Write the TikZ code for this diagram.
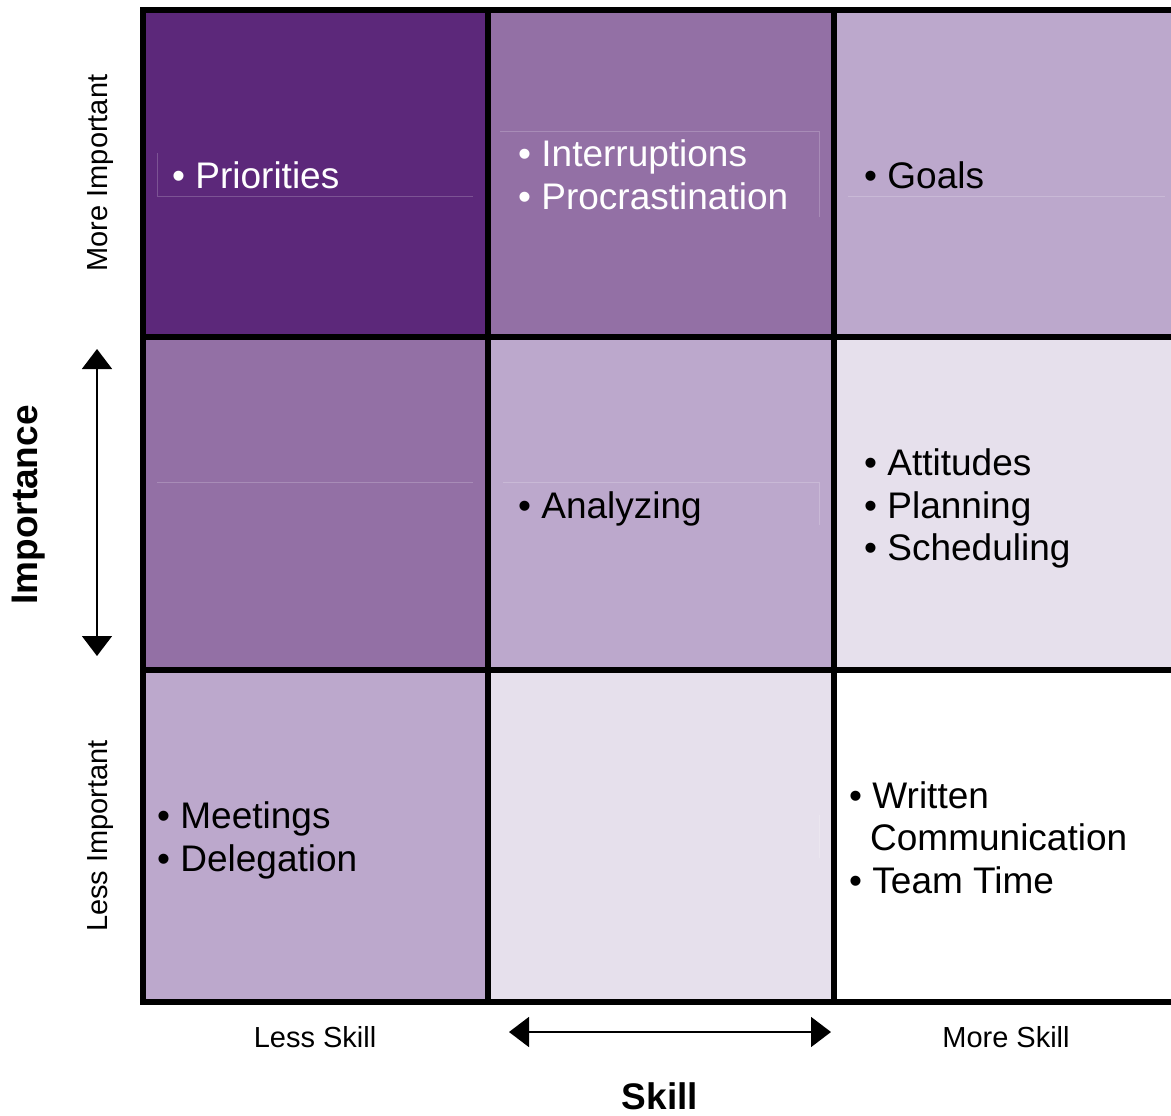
\documentclass[tikz,border=0pt]{standalone}
\usepackage{fontspec}
\setmainfont{Liberation Sans}
\usetikzlibrary{arrows.meta}
\definecolor{pdark}{HTML}{5C287A}
\definecolor{pmed}{HTML}{9370A5}
\definecolor{plight}{HTML}{BCA8CC}
\definecolor{pvlight}{HTML}{E6E0EC}
\tikzset{
  cellline/.style={line width=6pt, draw=black},
  itemtxt/.style={anchor=base west, inner sep=0pt, font=\fontsize{37}{43}\selectfont},
  axsmall/.style={inner sep=0pt, font=\fontsize{29}{34}\selectfont},
  axbig/.style={inner sep=0pt, font=\fontsize{37}{43}\selectfont\bfseries},
  boxline/.style={draw=white, draw opacity=0.2, line width=0.8pt},
  dblarrow/.style={line width=1.5pt, {Triangle[width=30pt,length=20pt]}-{Triangle[width=30pt,length=20pt]}}
}
\begin{document}
\begin{tikzpicture}[x=1pt,y=-1pt]
\useasboundingbox (0,0) rectangle (1171,1116);
\begin{scope}
\clip (0,0) rectangle (1171,1116);
% cells
\fill[pdark]   (143,10) rectangle (488,337);
\fill[pmed]    (488,10) rectangle (834,337);
\fill[plight]  (834,10) rectangle (1180,337);
\fill[pmed]    (143,337) rectangle (488,670);
\fill[plight]  (488,337) rectangle (834,670);
\fill[pvlight] (834,337) rectangle (1180,670);
\fill[plight]  (143,670) rectangle (488,1002);
\fill[pvlight] (488,670) rectangle (834,1002);
\fill[white]   (834,670) rectangle (1180,1002);
% faint text box edges
\draw[boxline] (157,153) -- (157,196) -- (473,196);
\draw[boxline] (500,131) -- (819,131) -- (819,217);
\draw[boxline] (848,196) -- (1165,196);
\draw[boxline] (157,482) -- (473,482);
\draw[boxline] (503,482) -- (819,482) -- (819,525);
\draw[boxline] (819,815) -- (819,858);
% grid lines
\draw[cellline] (1185,10) -- (143,10) -- (143,1002) -- (1185,1002);
\draw[cellline] (488,10) -- (488,1002);
\draw[cellline] (834,10) -- (834,1002);
\draw[cellline] (143,337) -- (1185,337);
\draw[cellline] (143,670) -- (1185,670);
\end{scope}
% cell texts
\node[itemtxt, text=white] (t1) at (172,188) {• Priorities};
\node[itemtxt, text=white] (t2) at (518,166) {• Interruptions};
\node[itemtxt, text=white] (t3) at (518,209) {• Procrastination};
\node[itemtxt] (t4) at (864,188) {• Goals};
\node[itemtxt] (t5) at (518,518) {• Analyzing};
\node[itemtxt] (t6) at (864,475) {• Attitudes};
\node[itemtxt] (t7) at (864,518) {• Planning};
\node[itemtxt] (t8) at (864,560) {• Scheduling};
\node[itemtxt] (t9) at (157,828) {• Meetings};
\node[itemtxt] (t10) at (157,871) {• Delegation};
\node[itemtxt] (t11) at (849,808) {• Written};
\node[itemtxt] (t12) at (870,850) {Communication};
\node[itemtxt] (t13) at (849,893) {• Team Time};
% axis labels
\node[axsmall, rotate=90] (mi) at (101,173) {More Important};
\node[axsmall, rotate=90] (li) at (101,836) {Less Important};
\node[axsmall] (ls) at (315,1037) {Less Skill};
\node[axsmall] (ms) at (1006,1037) {More Skill};
\node[axbig, rotate=90] (imp) at (29,505) {Importance};
\node[axbig] (sk) at (660,1096) {Skill};
% arrows
\coordinate (vtop) at (97,349);
\coordinate (vbot) at (97,656);
\coordinate (hl) at (509,1032);
\coordinate (hr) at (831,1032);
\draw[dblarrow] (vtop) -- (vbot);
\draw[dblarrow] (hl) -- (hr);
\end{tikzpicture}
\end{document}
